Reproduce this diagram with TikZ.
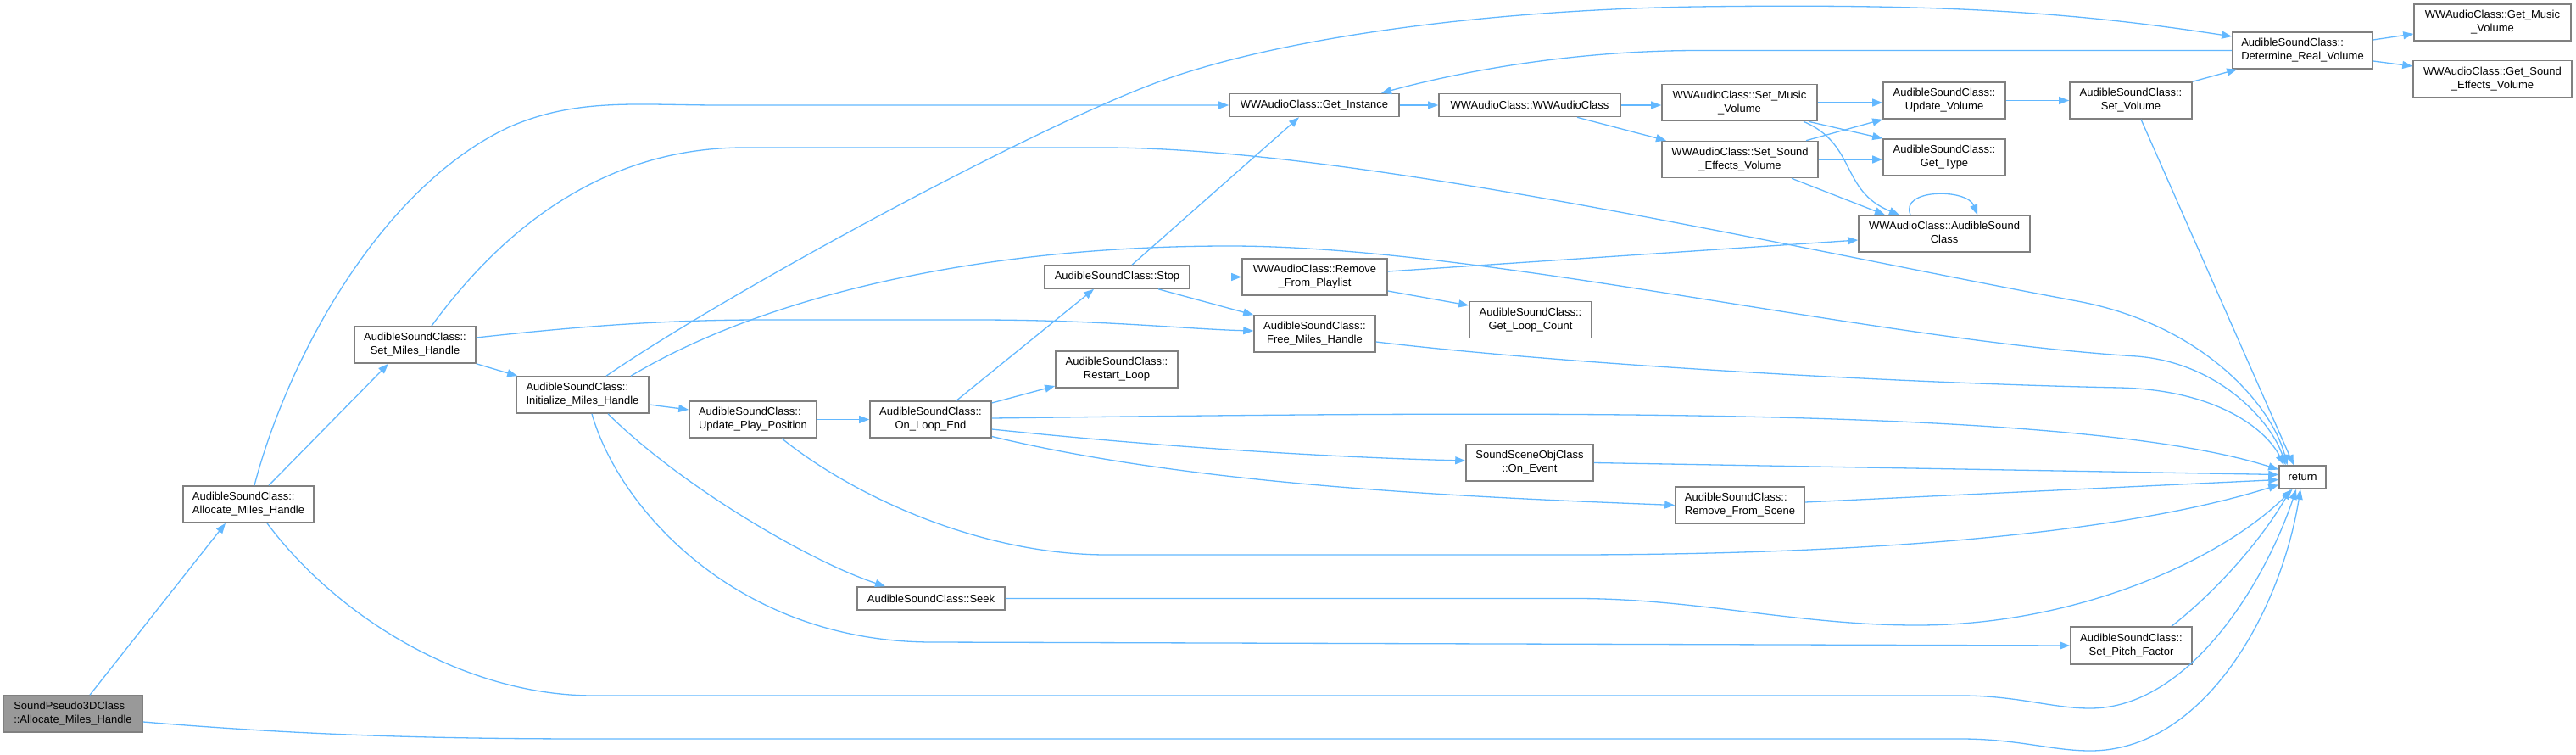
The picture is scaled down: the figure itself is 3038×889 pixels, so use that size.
\documentclass[tikz,border=0pt]{standalone}
\usepackage{fontspec}
\setmainfont{Liberation Sans}
\usetikzlibrary{arrows.meta}
\definecolor{edgeBlue}{RGB}{99,184,255}
\definecolor{boxGray}{RGB}{128,128,128}
\definecolor{startGray}{RGB}{153,153,153}
\newlength{\lineAwd}
\newlength{\lineBwd}
\newcommand{\TwoLine}[2]{%
  \settowidth{\lineAwd}{#1}\settowidth{\lineBwd}{#2}%
  \ifdim\lineAwd<\lineBwd\setlength{\lineAwd}{\lineBwd}\fi
  \begin{tabular}{@{}c@{}}\makebox[\lineAwd][l]{#1}\\#2\end{tabular}}

\begin{document}
\begin{tikzpicture}[x=1pt,y=-1pt,
  fn/.style={draw=boxGray,fill=white,line width=1.6pt,inner sep=0pt,font=\fontsize{13}{16}\selectfont},
  oneline/.style={fn,minimum height=27pt},
  twoline/.style={fn,minimum height=43pt},
  call/.style={draw=edgeBlue,line width=1.3pt,-{Triangle[length=12pt,width=9pt]}}]
\useasboundingbox (0,0) rectangle (3038,889);

\node[twoline,fill=startGray,minimum width=164pt] (sp3d) at (86,841.5) {\TwoLine{SoundPseudo3DClass}{::Allocate\_Miles\_Handle}};
\node[twoline,minimum width=154pt] (allocmh) at (293,594.5) {\TwoLine{AudibleSoundClass::}{Allocate\_Miles\_Handle}};
\node[twoline,minimum width=143pt] (setmh) at (489.5,406.5) {\TwoLine{AudibleSoundClass::}{Set\_Miles\_Handle}};
\node[twoline,minimum width=156pt] (initmh) at (687,465.5) {\TwoLine{AudibleSoundClass::}{Initialize\_Miles\_Handle}};
\node[twoline,minimum width=150pt] (updpos) at (888,494.5) {\TwoLine{AudibleSoundClass::}{Update\_Play\_Position}};
\node[twoline,minimum width=143pt] (loopend) at (1097.5,494.5) {\TwoLine{AudibleSoundClass::}{On\_Loop\_End}};
\node[twoline,minimum width=144pt] (restart) at (1317,435.5) {\TwoLine{AudibleSoundClass::}{Restart\_Loop}};
\node[oneline,minimum width=174pt] (seek) at (1098,705.5) {AudibleSoundClass::Seek};
\node[oneline,minimum width=200pt] (getinst) at (1550,124) {WWAudioClass::Get\_Instance};
\node[oneline,minimum width=171pt] (stop) at (1317.5,326.5) {AudibleSoundClass::Stop};
\node[twoline,minimum width=171pt] (rmplay) at (1550.5,326.5) {\TwoLine{WWAudioClass::Remove}{\_From\_Playlist}};
\node[twoline,minimum width=143pt] (freemh) at (1550.5,393.5) {\TwoLine{AudibleSoundClass::}{Free\_Miles\_Handle}};
\node[twoline,minimum width=144pt] (loopcnt) at (1805,377) {\TwoLine{AudibleSoundClass::}{Get\_Loop\_Count}};
\node[oneline,minimum width=214pt] (wwctor) at (1804,124) {WWAudioClass::WWAudioClass};
\node[twoline,minimum width=150pt] (onevent) at (1804,545.5) {\TwoLine{SoundSceneObjClass}{::On\_Event}};
\node[twoline,minimum width=183pt] (setmusic) at (2051.5,121) {\TwoLine{WWAudioClass::Set\_Music}{\_Volume}};
\node[twoline,minimum width=184pt] (setsfx) at (2052,188) {\TwoLine{WWAudioClass::Set\_Sound}{\_Effects\_Volume}};
\node[twoline,minimum width=152pt] (rmscene) at (2052,595.5) {\TwoLine{AudibleSoundClass::}{Remove\_From\_Scene}};
\node[twoline,minimum width=144pt] (updvol) at (2293,118.5) {\TwoLine{AudibleSoundClass::}{Update\_Volume}};
\node[twoline,minimum width=144pt] (gettype) at (2293,185.5) {\TwoLine{AudibleSoundClass::}{Get\_Type}};
\node[twoline,minimum width=202pt] (asctor) at (2293,275.5) {\TwoLine{WWAudioClass::AudibleSound}{Class}};
\node[twoline,minimum width=144pt] (setvol) at (2513,118.5) {\TwoLine{AudibleSoundClass::}{Set\_Volume}};
\node[twoline,minimum width=143pt,minimum height=44pt] (setpitch) at (2513.5,761) {\TwoLine{AudibleSoundClass::}{Set\_Pitch\_Factor}};
\node[twoline,minimum width=165pt] (detvol) at (2715.5,59.5) {\TwoLine{AudibleSoundClass::}{Determine\_Real\_Volume}};
\node[oneline,minimum width=55pt] (ret) at (2715.5,562.5) {return};
\node[twoline,minimum width=185pt] (getmusic) at (2939.5,26.5) {\TwoLine{WWAudioClass::Get\_Music}{\_Volume}};
\node[twoline,minimum width=187pt] (getsfx) at (2939.5,93) {\TwoLine{WWAudioClass::Get\_Sound}{\_Effects\_Volume}};

\draw[call] ([xshift=20pt]sp3d.north) -- ([xshift=-27pt]allocmh.south);
\draw[call] ([yshift=-9.5pt]sp3d.east) .. controls (350,866) and (500,871) .. (700,871) -- (2312,871)
  .. controls (2380,871) and (2420,885) .. (2465,885) .. controls (2600,885) and (2690,720) .. ([xshift=-2.5pt]ret.south);
\draw[call] ([xshift=24pt]allocmh.north) -- ([xshift=-31.5pt]setmh.south);
\draw[call] ([xshift=7pt]allocmh.north) .. controls (340,420) and (450,220) .. (600,150)
  .. controls (680,115) and (750,124) .. (850,124) -- (getinst.west);
\draw[call] ([xshift=22pt]allocmh.south) .. controls (400,730) and (550,820) .. (700,820) -- (2312,820)
  .. controls (2380,820) and (2420,835) .. (2465,835) .. controls (2580,835) and (2670,690) .. ([xshift=-7.5pt]ret.south);
\draw[call] (setmh.south east) -- ([xshift=2pt]initmh.north west);
\draw[call] ([yshift=8.5pt]setmh.east) .. controls (680,385) and (780,377) .. (900,377) -- (1150,377)
  .. controls (1300,377) and (1400,388) .. ([yshift=3.5pt]freemh.west);
\draw[call] ([xshift=19.5pt]setmh.north) .. controls (600,260) and (720,174) .. (878,174) -- (1300,174)
  .. controls (1600,174) and (2100,290) .. (2450,355) .. controls (2600,383) and (2680,480) .. ([xshift=-18pt]ret.north);
\draw[call] ([xshift=28pt]initmh.north) .. controls (850,350) and (1200,160) .. (1357,100)
  .. controls (1500,45) and (1750,12) .. (2000,8) .. controls (2300,4) and (2450,15) .. ([yshift=16.5pt]detvol.west);
\draw[call] ([xshift=57pt]initmh.north) .. controls (900,350) and (1150,290) .. (1450,290)
  .. controls (1750,290) and (2200,400) .. (2520,420) .. controls (2620,428) and (2680,500) .. ([xshift=-20pt]ret.north);
\draw[call] ([yshift=-11.5pt]initmh.east) -- ([yshift=11.5pt]updpos.west);
\draw[call] ([xshift=11pt]initmh.south) .. controls (730,600) and (870,757) .. (1100,757) -- (setpitch.west);
\draw[call] ([xshift=30pt]initmh.south) .. controls (800,570) and (950,660) .. ([xshift=-54pt]seek.north);
\draw[call] (updpos.east) -- (loopend.west);
\draw[call] ([xshift=34pt]updpos.south) .. controls (1000,580) and (1150,654) .. (1306,654) -- (1847,654)
  .. controls (2200,654) and (2500,630) .. ([yshift=-9pt]ret.west);
\draw[call] ([xshift=30.5pt]loopend.north) -- ([xshift=-27.5pt]stop.south);
\draw[call] ([yshift=19.5pt]loopend.east) -- ([yshift=-19.5pt]restart.west);
\draw[call] ([yshift=1.5pt]loopend.east) .. controls (1800,485) and (2450,478) .. ([yshift=9pt]ret.west);
\draw[call] ([yshift=-11.5pt]loopend.east) .. controls (1400,530) and (1600,540) .. ([yshift=2.5pt]onevent.west);
\draw[call] ([yshift=-20pt]loopend.east) .. controls (1400,570) and (1700,585) .. (rmscene.west);
\draw[call] (seek.east) -- (1859,705.5) .. controls (2000,705.5) and (2120,737) .. (2261,737)
  .. controls (2450,737) and (2620,660) .. ([xshift=-12pt]ret.south);
\draw[call] ([xshift=17.5pt]stop.north) -- ([xshift=-18pt]getinst.south);
\draw[call] (stop.east) -- (rmplay.west);
\draw[call] ([xshift=48.5pt]stop.south) -- (freemh.north west);
\draw[call] ([yshift=6.5pt]rmplay.east) -- ([yshift=-7.5pt]asctor.west);
\draw[call] ([yshift=-16.5pt]rmplay.east) -- ([yshift=17pt]loopcnt.west);
\draw[call] ([yshift=-9.5pt]freemh.east) .. controls (1850,430) and (2250,452) .. (2500,457)
  .. controls (2620,460) and (2675,510) .. ([xshift=-22pt]ret.north);
\draw[call] (getinst.east) -- (wwctor.west);
\draw[call] (wwctor.east) -- (wwctor.east -| setmusic.west);
\draw[call] ([xshift=56pt]wwctor.south) -- ([xshift=-87pt]setsfx.north);
\draw[call] (setmusic.east) -- (setmusic.east -| updvol.west);
\draw[call] ([xshift=81.5pt]setmusic.south) -- (gettype.north west);
\draw[call] ([xshift=75.5pt]setmusic.south) .. controls (2190,170) and (2170,225) .. ([xshift=-53pt]asctor.north);
\draw[call] ([xshift=78pt]setsfx.north) -- (updvol.south west);
\draw[call] (setsfx.east) -- (setsfx.east -| gettype.west);
\draw[call] ([xshift=61pt]setsfx.south) -- ([xshift=-70pt]asctor.north);
\draw[call] ([xshift=-40pt]asctor.north) .. controls (2240,222) and (2320,222) .. ([xshift=39pt]asctor.north);
\draw[call] (updvol.east) -- (setvol.west);
\draw[call] (setvol.north east) -- ([xshift=6pt]detvol.south west);
\draw[call] ([xshift=12pt]setvol.south) -- ([xshift=-10.5pt]ret.north);
\draw[call] ([yshift=12.5pt]detvol.east) -- ([yshift=-13.5pt]getmusic.west);
\draw[call] ([yshift=-12.5pt]detvol.east) -- ([yshift=15pt]getsfx.west);
\draw[call] (detvol.west) -- (2000,59.5) .. controls (1850,60) and (1720,85) .. ([xshift=79pt]getinst.north);
\draw[call] (onevent.east) -- ([yshift=3pt]ret.west);
\draw[call] ([yshift=3.5pt]rmscene.east) -- ([yshift=-3pt]ret.west);
\draw[call] ([xshift=47.5pt]setpitch.north) .. controls (2610,700) and (2665,640) .. ([xshift=-14pt]ret.south);
\end{tikzpicture}
\end{document}
